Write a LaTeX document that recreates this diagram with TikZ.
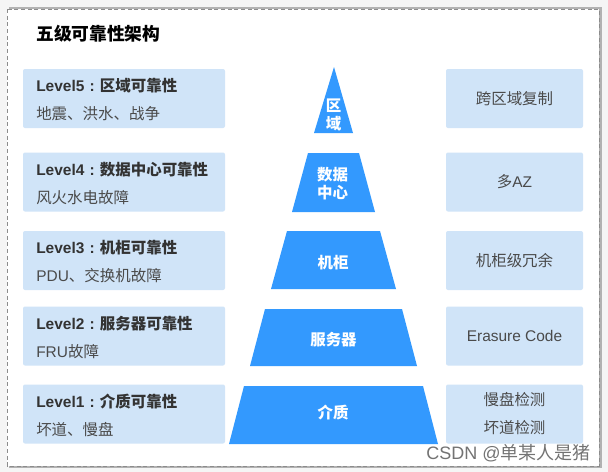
\documentclass[tikz,border=0pt]{standalone}
\usepackage{fontspec}
\setmainfont{Noto Sans CJK SC}
\newfontfamily\lat{Liberation Sans}
\definecolor{pblue}{HTML}{3399FE}
\definecolor{lbg}{HTML}{D0E4F8}
\definecolor{txt}{HTML}{333333}
\definecolor{txtb}{HTML}{4A4A4A}
\newcommand{\fwcolon}{\makebox[1em][c]{\lat :}}
\tikzset{
  lbox/.style={fill=lbg, rounded corners=1.5pt, minimum width=151.5pt, minimum height=44.25pt, inner sep=0pt},
  rbox/.style={fill=lbg, rounded corners=1.5pt, minimum width=102.75pt, minimum height=44.25pt, inner sep=0pt, align=center, text=txtb, font=\fontsize{11.6}{21}\selectfont},
  headtxt/.style={anchor=west, inner sep=0pt, text=txt, font=\fontsize{11.6}{13}\selectfont\bfseries},
  subtxt/.style={anchor=west, inner sep=0pt, text=txtb, font=\fontsize{11.6}{13}\selectfont},
  pyr/.style={fill=pblue},
  pyrtxt/.style={text=white, align=center, inner sep=0pt, font=\fontsize{11.6}{14}\selectfont\bfseries},
}
\begin{document}
\begin{tikzpicture}[x=0.75pt,y=-0.75pt]
\useasboundingbox (0,0) rectangle (608,472);
\fill[black!4] (0,0) rectangle (608,472);
\fill[black!30] (9,7) rectangle (602,468);
\fill[white] (7,9) rectangle (599,466);
\draw[black!45, line width=0.75pt, dash pattern=on 3pt off 2pt] (7,9) rectangle (599,466);
\node[anchor=west, inner sep=0pt, font=\fontsize{13.3}{15}\selectfont\bfseries] (title) at (36,34) {五级可靠性架构};
% left boxes
\node[lbox] (l5) at (124,98.5) {};
\node[lbox] (l4) at (124,182) {};
\node[lbox] (l3) at (124,260.5) {};
\node[lbox] (l2) at (124,336) {};
\node[lbox] (l1) at (124,414) {};
\node[headtxt] (h5) at (36,86) {{\lat Level5}\fwcolon 区域可靠性};
\node[subtxt] (s5) at (36,114) {地震、洪水、战争};
\node[headtxt] (h4) at (36,169.5) {{\lat Level4}\fwcolon 数据中心可靠性};
\node[subtxt] (s4) at (36,197.5) {风火水电故障};
\node[headtxt] (h3) at (36,248) {{\lat Level3}\fwcolon 机柜可靠性};
\node[subtxt] (s3) at (36,276) {{\lat PDU}、交换机故障};
\node[headtxt] (h2) at (36,323.5) {{\lat Level2}\fwcolon 服务器可靠性};
\node[subtxt] (s2) at (36,351.5) {{\lat FRU}故障};
\node[headtxt] (h1) at (36,401.5) {{\lat Level1}\fwcolon 介质可靠性};
\node[subtxt] (s1) at (36,429.5) {坏道、慢盘};
% right boxes
\node[rbox] (r5) at (514.5,98.5) {跨区域复制};
\node[rbox] (r4) at (514.5,182) {多{\lat AZ}};
\node[rbox] (r3) at (514.5,260.5) {机柜级冗余};
\node[rbox] (r2) at (514.5,336) {{\lat Erasure Code}};
\node[rbox] (r1) at (514.5,414) {慢盘检测\\坏道检测};
% pyramid
\fill[pyr] (334,67) -- (353,133) -- (314,133) -- cycle;
\fill[pyr] (308,153) -- (359,153) -- (375,212) -- (292,212) -- cycle;
\fill[pyr] (287,231) -- (380,231) -- (396,289) -- (271,289) -- cycle;
\fill[pyr] (265,309) -- (402,309) -- (417,366) -- (250,366) -- cycle;
\fill[pyr] (244,386) -- (423,386) -- (438,444) -- (229,444) -- cycle;
\node[pyrtxt] (p5) at (333.5,115) {区\\域};
\node[pyrtxt] (p4) at (332.5,183.5) {数据\\中心};
\node[pyrtxt] (p3) at (333,263) {机柜};
\node[pyrtxt] (p2) at (333.5,339.5) {服务器};
\node[pyrtxt] (p1) at (333,413) {介质};
% watermark
\node[anchor=east, inner sep=0pt, text=black!55, font=\fontsize{13.5}{15}\selectfont] (wm) at (591,453) {{\lat CSDN @}单某人是猪};
\end{tikzpicture}
\end{document}
